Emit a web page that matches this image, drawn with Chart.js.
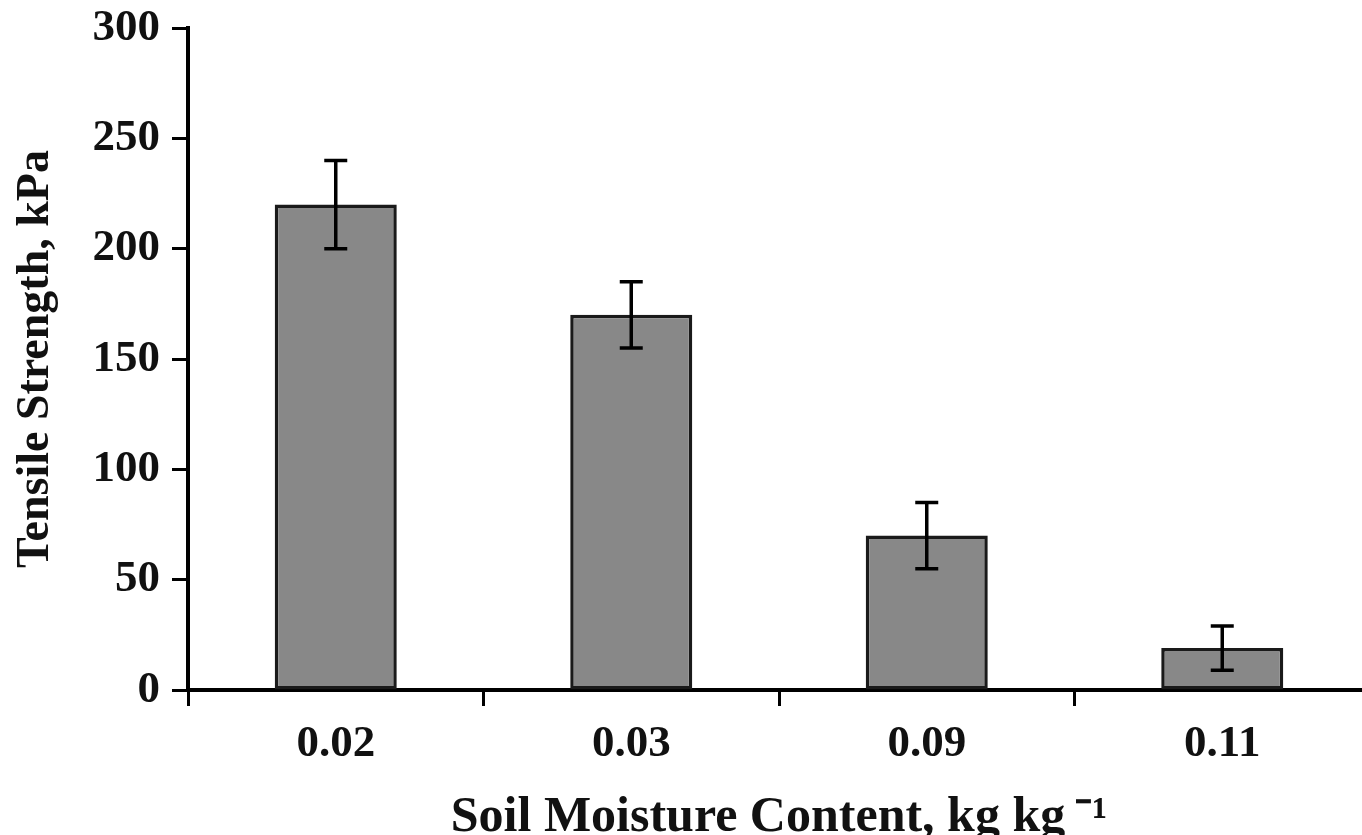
<!DOCTYPE html>
<html>
<head>
<meta charset="utf-8">
<script src="https://cdn.jsdelivr.net/npm/chart.js@4/dist/chart.umd.min.js"></script>
<style>
  html, body { margin: 0; padding: 0; background: #fff; overflow: hidden; }
  #wrap { width: 1370px; height: 850px; position: relative; }
</style>
</head>
<body>
<div id="wrap"><canvas id="c"></canvas></div>
<script>
const categories = ["0.02", "0.03", "0.09", "0.11"];
const tensileStrength = [220, 170, 70, 19];
const errorAmount = [20, 15, 15, 10];
const yTicks = [0, 50, 100, 150, 200, 250, 300];

const errorBarPlugin = {
  id: 'errorBars',
  afterDatasetsDraw(chart) {
    const ctx = chart.ctx;
    const meta = chart.getDatasetMeta(0);
    const ys = chart.scales.y;
    ctx.save();
    ctx.strokeStyle = '#000';
    ctx.lineWidth = 3.5;
    meta.data.forEach((bar, i) => {
      const v = tensileStrength[i], e = errorAmount[i];
      const yt = ys.getPixelForValue(v + e);
      const yb = ys.getPixelForValue(v - e);
      const x = bar.x;
      const cap = 11.5;
      ctx.beginPath();
      ctx.moveTo(x, yt); ctx.lineTo(x, yb);
      ctx.moveTo(x - cap, yt); ctx.lineTo(x + cap, yt);
      ctx.moveTo(x - cap, yb); ctx.lineTo(x + cap, yb);
      ctx.stroke();
    });
    ctx.restore();
  }
};

const fontFamily = '"Liberation Serif", "Times New Roman", serif';

new Chart(document.getElementById('c'), {
  type: 'bar',
  data: {
    labels: categories,
    datasets: [{
      data: tensileStrength,
      backgroundColor: '#888888',
      borderColor: '#1a1a1a',
      borderWidth: 3.5,
      borderSkipped: false,
      barPercentage: 0.413,
      categoryPercentage: 1.0
    }]
  },
  options: {
    responsive: true,
    maintainAspectRatio: false,
    animation: false,
    layout: { padding: { top: 28, left: 0, right: 0, bottom: 0 } },
    plugins: {
      legend: { display: false },
      tooltip: { enabled: false }
    },
    scales: {
      x: {
        offset: true,
        afterFit(scale) { scale.height = 160; },
        grid: {
          display: true,
          offset: true,
          drawOnChartArea: false,
          drawTicks: true,
          tickLength: 16,
          tickWidth: 3,
          tickColor: '#000'
        },
        border: { display: true, color: '#000', width: 4 },
        ticks: {
          color: '#111',
          font: { family: fontFamily, size: 45, weight: 'bold' },
          padding: 11,
          maxRotation: 0
        },
        title: {
          display: true,
          text: 'Soil Moisture Content, kg kg\u2009\u207B\u00B9',
          color: '#111',
          font: { family: fontFamily, size: 50, weight: 'bold' },
          padding: { top: 0, bottom: 2 }
        }
      },
      y: {
        min: 0,
        max: 300,
        afterFit(scale) { scale.width = 188; scale.paddingTop = 0; scale.paddingBottom = 0; },
        afterBuildTicks(scale) { scale.ticks = yTicks.map(v => ({ value: v })); },
        grid: {
          display: true,
          drawOnChartArea: false,
          drawTicks: true,
          tickLength: 16,
          tickWidth: 3,
          tickColor: '#000'
        },
        border: { display: true, color: '#000', width: 4 },
        ticks: {
          color: '#111',
          font: { family: fontFamily, size: 45, weight: 'bold' },
          padding: 12
        },
        title: {
          display: true,
          text: 'Tensile Strength, kPa',
          color: '#111',
          font: { family: fontFamily, size: 46, weight: 'bold' },
          padding: { top: 9, bottom: 0 }
        }
      }
    }
  },
  plugins: [errorBarPlugin]
});
</script>
</body>
</html>
